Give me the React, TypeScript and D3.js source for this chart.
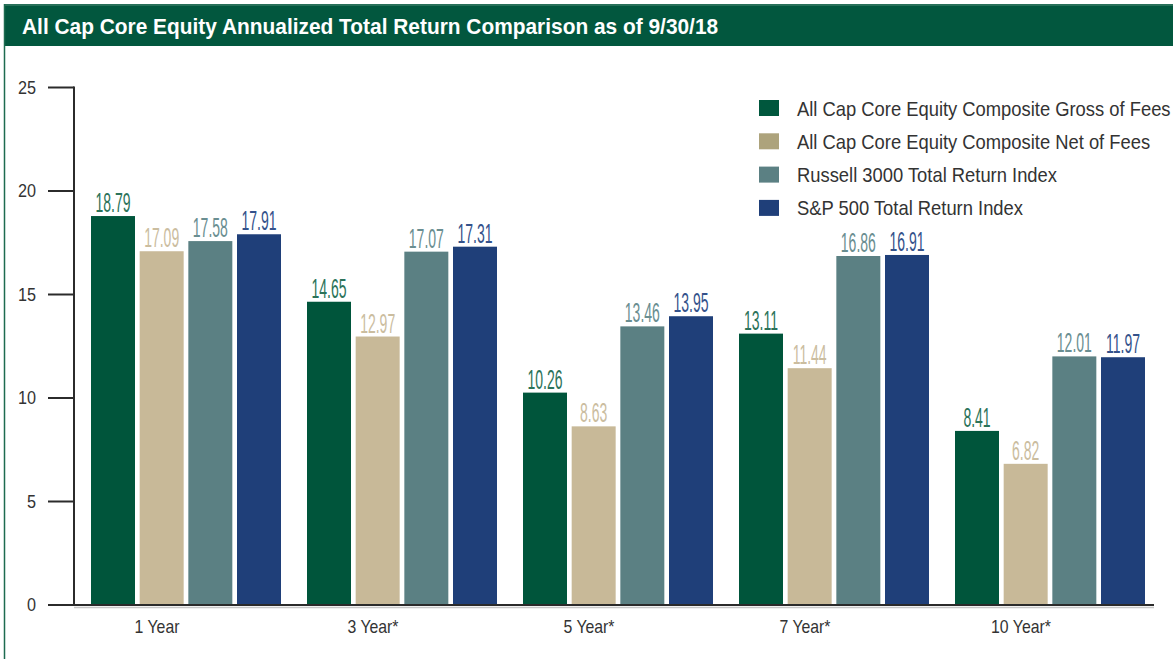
import { useEffect, useRef } from "react";
import * as d3 from "d3";

const categories = ["1 Year", "3 Year*", "5 Year*", "7 Year*", "10 Year*"];
const seriesNames = [
  "All Cap Core Equity Composite Gross of Fees",
  "All Cap Core Equity Composite Net of Fees",
  "Russell 3000 Total Return Index",
  "S&P 500 Total Return Index",
];
const grossValues = [18.79, 14.65, 10.26, 13.11, 8.41];
const netValues = [17.09, 12.97, 8.63, 11.44, 6.82];
const russellValues = [17.58, 17.07, 13.46, 16.86, 12.01];
const spValues = [17.91, 17.31, 13.95, 16.91, 11.97];
const yTicks = [0, 5, 10, 15, 20, 25];

const barColors = ["#00553b", "#c8b998", "#5b8083", "#1f3f79"];
const labelColors = ["#2c735a", "#cbbd9f", "#6a8e91", "#34528b"];
const swatchColors = ["#00573d", "#ada37c", "#5b8083", "#1f3f79"];

const FONT = "'Liberation Sans', Arial, sans-serif";
// no narrow font installed, so text is squeezed horizontally
const NARROW = 0.88;

export default function App() {
  const svgRef = useRef<SVGSVGElement>(null);

  useEffect(() => {
    if (!svgRef.current) return;
    const svg = d3.select(svgRef.current);
    svg.selectAll("*").remove();

    const width = 1173;
    const height = 659;

    // Header band + frame
    svg.append("rect").attr("x", 4).attr("y", 4).attr("width", width).attr("height", 42).attr("fill", "#02573e");
    svg.append("line").attr("x1", 4).attr("x2", width).attr("y1", 5).attr("y2", 5).attr("stroke", "#4f8a75").attr("stroke-width", 1);
    svg.append("line").attr("x1", 4.5).attr("x2", 4.5).attr("y1", 4).attr("y2", height).attr("stroke", "#1d6b50").attr("stroke-width", 1.5);

    svg
      .append("text")
      .attr("transform", `translate(22,34) scale(0.95,1)`)
      .attr("fill", "#ffffff")
      .attr("font-family", FONT)
      .attr("font-weight", "bold")
      .attr("font-size", "22px")
      .text("All Cap Core Equity Annualized Total Return Comparison as of 9/30/18");

    const rows = categories.map((c, i) => ({
      cat: c,
      values: [grossValues[i], netValues[i], russellValues[i], spValues[i]],
    }));

    const yScale = d3.scaleLinear().domain([0, 25]).range([605, 87.5]);
    const x0 = d3.scaleBand().domain(categories).range([91, 1145]).paddingInner(26 / 216).paddingOuter(0);
    const x1 = d3
      .scaleBand<number>()
      .domain([0, 1, 2, 3])
      .range([0, x0.bandwidth()])
      .paddingInner(0.096)
      .paddingOuter(0);

    // Axes
    const axisX = 74;
    svg
      .append("line")
      .attr("x1", axisX)
      .attr("x2", axisX)
      .attr("y1", yScale(25) - 1)
      .attr("y2", yScale(0) + 1)
      .attr("stroke", "#2b2b2b")
      .attr("stroke-width", 2);

    svg
      .append("g")
      .selectAll("line")
      .data(yTicks)
      .join("line")
      .attr("x1", 48)
      .attr("x2", axisX)
      .attr("y1", (d) => yScale(d))
      .attr("y2", (d) => yScale(d))
      .attr("stroke", "#2b2b2b")
      .attr("stroke-width", 2);

    svg
      .append("g")
      .selectAll("text")
      .data(yTicks)
      .join("text")
      .attr("transform", (d) => `translate(36,${yScale(d) + 6}) scale(0.9,1)`)
      .attr("text-anchor", "end")
      .attr("fill", "#333")
      .attr("font-family", FONT)
      .attr("font-size", "18px")
      .text((d) => d);

    // Bars
    const groups = svg
      .append("g")
      .selectAll("g")
      .data(rows)
      .join("g")
      .attr("transform", (d) => `translate(${x0(d.cat)},0)`);

    groups
      .selectAll("rect")
      .data((d) => d.values)
      .join("rect")
      .attr("x", (_, i) => x1(i)!)
      .attr("y", (d) => yScale(d))
      .attr("width", x1.bandwidth())
      .attr("height", (d) => yScale(0) - yScale(d))
      .attr("fill", (_, i) => barColors[i]);

    groups
      .selectAll("text")
      .data((d) => d.values)
      .join("text")
      .attr(
        "transform",
        (d, i) => `translate(${x1(i)! + x1.bandwidth() / 2},${yScale(d) - 4}) scale(0.5,1)`
      )
      .attr("text-anchor", "middle")
      .attr("fill", (_, i) => labelColors[i])
      .attr("font-family", FONT)
      .attr("font-size", "28px")
      .text((d) => d.toFixed(2));

    // Baseline
    svg
      .append("line")
      .attr("x1", axisX)
      .attr("x2", 1154)
      .attr("y1", yScale(0) + 2.5)
      .attr("y2", yScale(0) + 2.5)
      .attr("stroke", "#c8c8c8")
      .attr("stroke-width", 1.5);
    svg
      .append("line")
      .attr("x1", axisX - 1)
      .attr("x2", 1154)
      .attr("y1", yScale(0))
      .attr("y2", yScale(0))
      .attr("stroke", "#2b2b2b")
      .attr("stroke-width", 2);

    // Category labels
    svg
      .append("g")
      .selectAll("text")
      .data(categories)
      .join("text")
      .attr("transform", (d) => `translate(${x0(d)! + 66},633) scale(${NARROW},1)`)
      .attr("text-anchor", "middle")
      .attr("fill", "#333")
      .attr("font-family", FONT)
      .attr("font-size", "18px")
      .text((d) => d);

    // Legend
    const legend = svg
      .append("g")
      .selectAll("g")
      .data(seriesNames)
      .join("g")
      .attr("transform", (_, i) => `translate(759,${100 + i * 33.3})`);
    legend
      .append("rect")
      .attr("width", 20)
      .attr("height", 16)
      .attr("y", 0)
      .attr("fill", (_, i) => swatchColors[i]);
    legend
      .append("text")
      .attr("transform", `translate(38,15.5) scale(0.875,1)`)
      .attr("fill", "#333")
      .attr("font-family", FONT)
      .attr("font-size", "21px")
      .text((d) => d);
  }, []);

  return (
    <svg
      ref={svgRef}
      width={1173}
      height={659}
      style={{ position: "absolute", left: 0, top: 0, background: "#fff" }}
    />
  );
}
